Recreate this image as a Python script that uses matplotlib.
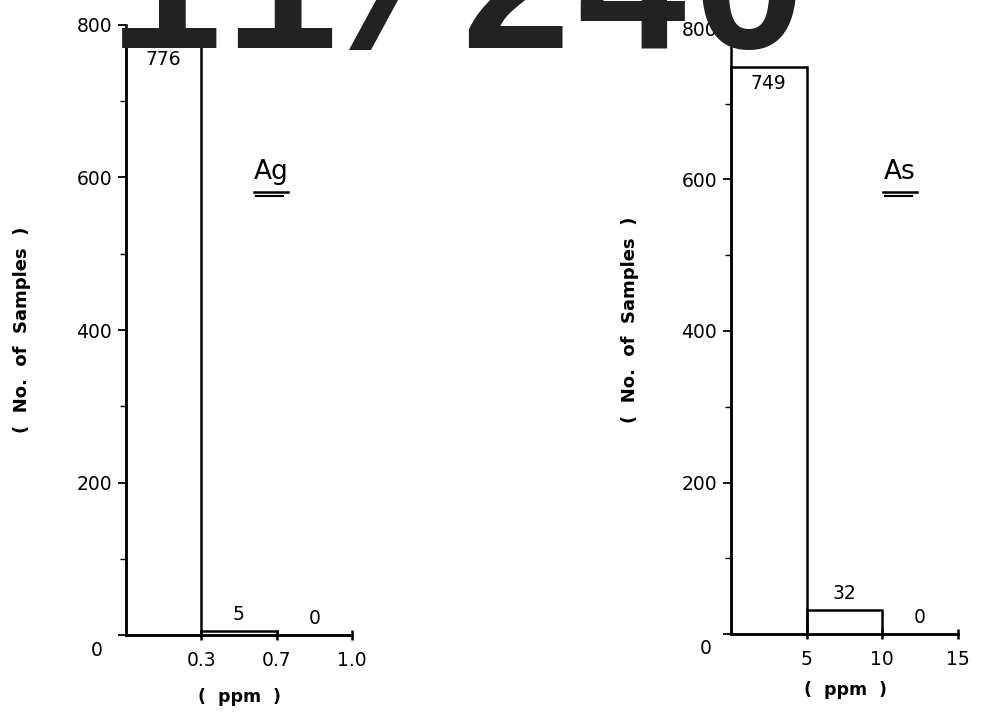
import matplotlib
matplotlib.use("Agg")
import matplotlib.pyplot as plt
from matplotlib.lines import Line2D

# ---- data ----
ag_edge_labels = ["0", "0.3", "0.7", "1.0"]
ag_counts = [776, 5, 0]
as_edge_labels = ["0", "5", "10", "15"]
as_counts = [749, 32, 0]
y_ticks = [0, 200, 400, 600, 800]
y_label = "(  No.  of  Samples  )"
x_label = "(  ppm  )"
stamp_text = "11/240"

W, H = 1007, 725
fig = plt.figure(figsize=(W / 100, H / 100), dpi=100)
plt.rcParams['font.family'] = ['DejaVu Sans']

FS = 13.5


def fx(px):
    return px / W


def fy(py):
    return 1 - py / H


def make_panel(left, right, y0, y800, edge_labels, counts, element, el_xy,
               ylab_x, xlab_xy, zero_xy):
    ax = fig.add_axes([fx(left), fy(y0), fx(right - left), fy(y800) - fy(y0)])
    n = len(counts)
    ax.set_xlim(0, n)
    ax.set_ylim(0, 800)
    ax.bar(range(n), counts, width=1, align='edge', fill=False,
           edgecolor='black', linewidth=1.8, clip_on=False)
    for s in ['top', 'right']:
        ax.spines[s].set_visible(False)
    for s in ['left', 'bottom']:
        ax.spines[s].set_linewidth(1.8)
    ax.set_yticks(y_ticks)
    ax.set_yticklabels([""] + [str(v) for v in y_ticks[1:]])
    ax.set_yticks([100, 300, 500, 700], minor=True)
    ax.tick_params(axis='y', which='major', length=6, width=1.3, pad=4,
                   labelsize=FS, direction='out')
    ax.tick_params(axis='y', which='minor', length=4, width=1.0,
                   direction='out')
    ax.set_xticks(range(1, n + 1))
    ax.set_xticklabels(edge_labels[1:])
    ax.tick_params(axis='x', length=7, width=1.8, direction='inout', pad=8,
                   labelsize=FS)
    # origin label
    fig.text(fx(zero_xy[0]), fy(zero_xy[1]), edge_labels[0], fontsize=FS,
             ha='center', va='center')
    # value labels
    for i, c in enumerate(counts):
        if c > 100:
            ax.annotate(str(c), (i + 0.5, c), xytext=(0, -5),
                        textcoords='offset points', ha='center', va='top',
                        fontsize=FS)
        else:
            ax.annotate(str(c), (i + 0.5, c), xytext=(0, 5),
                        textcoords='offset points', ha='center', va='bottom',
                        fontsize=FS)
    # element label with double underline
    fig.text(fx(el_xy[0]), fy(el_xy[1]), element, fontsize=19,
             ha='center', va='center')
    fig.add_artist(Line2D([fx(el_xy[0] - 17), fx(el_xy[0] + 17)],
                          [fy(el_xy[1] + 20), fy(el_xy[1] + 20)],
                          color='black', lw=1.8))
    fig.add_artist(Line2D([fx(el_xy[0] - 15), fx(el_xy[0] + 12)],
                          [fy(el_xy[1] + 24), fy(el_xy[1] + 24)],
                          color='black', lw=1.5))
    fig.text(fx(ylab_x[0]), fy(ylab_x[1]), y_label, rotation=90, fontsize=13,
             fontweight='bold', ha='center', va='center')
    fig.text(fx(xlab_xy[0]), fy(xlab_xy[1]), x_label, fontsize=12.5,
             fontweight='bold', ha='center', va='center')
    return ax


make_panel(126, 352, 635, 25, ag_edge_labels, ag_counts, "Ag", (271, 172),
           (22, 330), (240, 697), (97, 651))
make_panel(731, 958, 634, 28, as_edge_labels, as_counts, "As", (900, 172),
           (630, 320), (845, 690), (706, 648))

# scan stamp at the top
fig.text(fx(458), fy(48), stamp_text, fontsize=140, family='Liberation Mono',
         fontweight='bold', color='#222222', ha='center', va='baseline')

fig.savefig("out.png", dpi=100)
